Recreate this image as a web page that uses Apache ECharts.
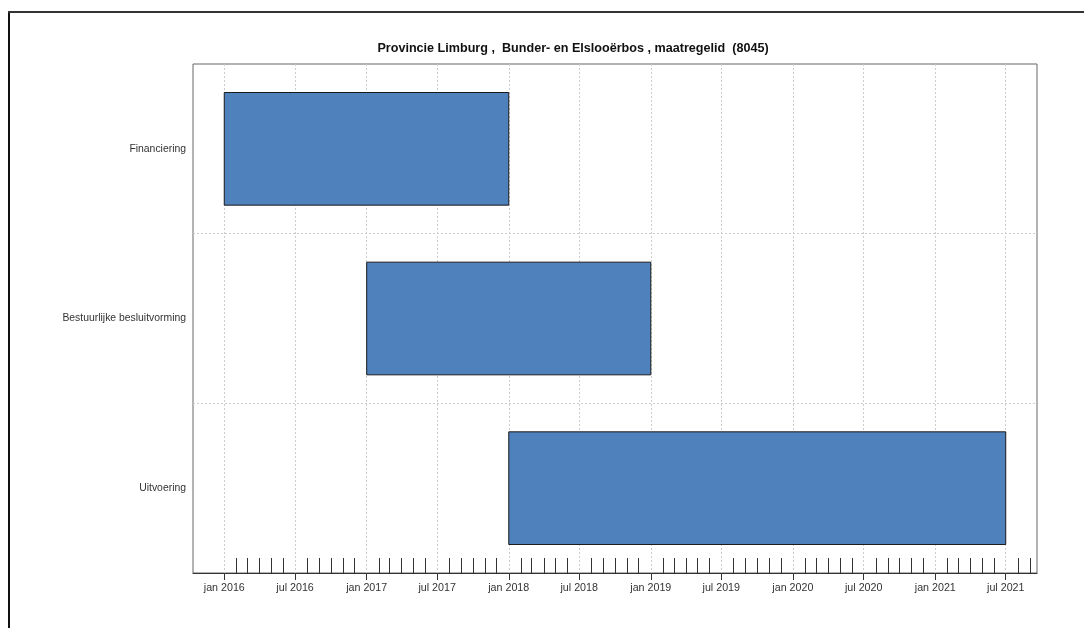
<!DOCTYPE html>
<html>
<head>
<meta charset="utf-8">
<script src="https://cdn.jsdelivr.net/npm/echarts@6/dist/echarts.min.js"></script>
<style>
html,body{margin:0;padding:0;background:#fff;}
#chart{width:1084px;height:628px;}
</style>
</head>
<body>
<div id="chart"></div>
<script>
// ---- data ----
const titleText = 'Provincie Limburg ,  Bunder- en Elslooërbos , maatregelid  (8045)';
const categories = ['Financiering', 'Bestuurlijke besluitvorming', 'Uitvoering'];
const startDates = ['2016-01-01', '2017-01-01', '2018-01-01'];
const endDates   = ['2018-01-01', '2019-01-01', '2021-07-01'];
const majorTicks = ['2016-01-01','2016-07-01','2017-01-01','2017-07-01','2018-01-01','2018-07-01',
                    '2019-01-01','2019-07-01','2020-01-01','2020-07-01','2021-01-01','2021-07-01'];
const majorTickLabels = ['jan 2016','jul 2016','jan 2017','jul 2017','jan 2018','jul 2018',
                         'jan 2019','jul 2019','jan 2020','jul 2020','jan 2021','jul 2021'];
const minorTicks = [
  '2016-02-01','2016-03-01','2016-04-01','2016-05-01','2016-06-01','2016-08-01','2016-09-01','2016-10-01','2016-11-01','2016-12-01',
  '2017-02-01','2017-03-01','2017-04-01','2017-05-01','2017-06-01','2017-08-01','2017-09-01','2017-10-01','2017-11-01','2017-12-01',
  '2018-02-01','2018-03-01','2018-04-01','2018-05-01','2018-06-01','2018-08-01','2018-09-01','2018-10-01','2018-11-01','2018-12-01',
  '2019-02-01','2019-03-01','2019-04-01','2019-05-01','2019-06-01','2019-08-01','2019-09-01','2019-10-01','2019-11-01','2019-12-01',
  '2020-02-01','2020-03-01','2020-04-01','2020-05-01','2020-06-01','2020-08-01','2020-09-01','2020-10-01','2020-11-01','2020-12-01',
  '2021-02-01','2021-03-01','2021-04-01','2021-05-01','2021-06-01','2021-08-01','2021-09-01'
];

// ---- build ----
const toMs = s => { const p = s.split('-').map(Number); return Date.UTC(p[0], p[1]-1, p[2]); };
const majorMs = majorTicks.map(toMs);
const minorMs = minorTicks.map(toMs);
const span = majorMs[majorMs.length-1] - majorMs[0];
const xMin = majorMs[0] - span * 0.04;
const xMax = majorMs[majorMs.length-1] + span * 0.04;
const labelMap = {};
majorMs.forEach((v, i) => { labelMap[v] = majorTickLabels[i]; });

const barData = categories.map((c, i) => [i, toMs(startDates[i]), toMs(endDates[i])]);

const chart = echarts.init(document.getElementById('chart'), null, {renderer: 'canvas'});
chart.setOption({
  animation: false,
  backgroundColor: '#ffffff',
  textStyle: {fontFamily: 'Liberation Sans, Arial, sans-serif'},
  title: {
    text: titleText,
    left: 568, top: 37, textAlign: 'center',
    textStyle: {fontSize: 12.6, fontWeight: 'bold', color: '#111', fontFamily: 'Liberation Sans, Arial, sans-serif'}
  },
  graphic: [
    {type: 'line', shape: {x1: 9, y1: 11, x2: 9, y2: 628}, style: {stroke: '#111', lineWidth: 2}},
    {type: 'line', shape: {x1: 8, y1: 12, x2: 1084, y2: 12}, style: {stroke: '#333', lineWidth: 2}}
  ],
  grid: {
    left: 193, top: 64, right: 47, bottom: 55,
    show: true, borderColor: '#666', borderWidth: 1, backgroundColor: 'transparent'
  },
  xAxis: [
    {
      type: 'value', min: xMin, max: xMax, position: 'bottom', scale: true,
      axisLine: {show: true, onZero: false, lineStyle: {color: '#333', width: 1}},
      axisTick: {show: true, customValues: majorMs, length: 7, lineStyle: {color: '#333'}},
      axisLabel: {
        show: true, customValues: majorMs, margin: 10,
        fontSize: 10.7, color: '#333',
        formatter: v => labelMap[v] || ''
      },
      splitLine: {show: true, lineStyle: {color: '#cccccc', type: [2, 2]}}
    },
    {
      type: 'value', min: xMin, max: xMax, position: 'bottom', scale: true,
      axisLine: {show: false},
      axisTick: {show: true, customValues: minorMs, inside: true, length: 15, lineStyle: {color: '#333'}},
      axisLabel: {show: false},
      splitLine: {show: false}
    }
  ],
  yAxis: {
    type: 'category', data: categories, inverse: true,
    axisLine: {show: false}, axisTick: {show: false},
    axisLabel: {fontSize: 10.4, color: '#333', margin: 7},
    splitLine: {show: true, showMinLine: false, showMaxLine: false, lineStyle: {color: '#cccccc', type: [2, 2]}}
  },
  series: [{
    type: 'custom',
    xAxisIndex: 0,
    encode: {x: [1, 2], y: 0},
    data: barData,
    renderItem: function (params, api) {
      const cat = api.value(0);
      const s = api.coord([api.value(1), cat]);
      const e = api.coord([api.value(2), cat]);
      const h = api.size([0, 1])[1] * 0.664;
      return {
        type: 'rect',
        shape: {x: s[0], y: s[1] - h / 2, width: e[0] - s[0], height: h},
        style: {fill: '#4f81bd', stroke: '#1a1a1a', lineWidth: 1}
      };
    }
  }]
});
</script>
</body>
</html>
